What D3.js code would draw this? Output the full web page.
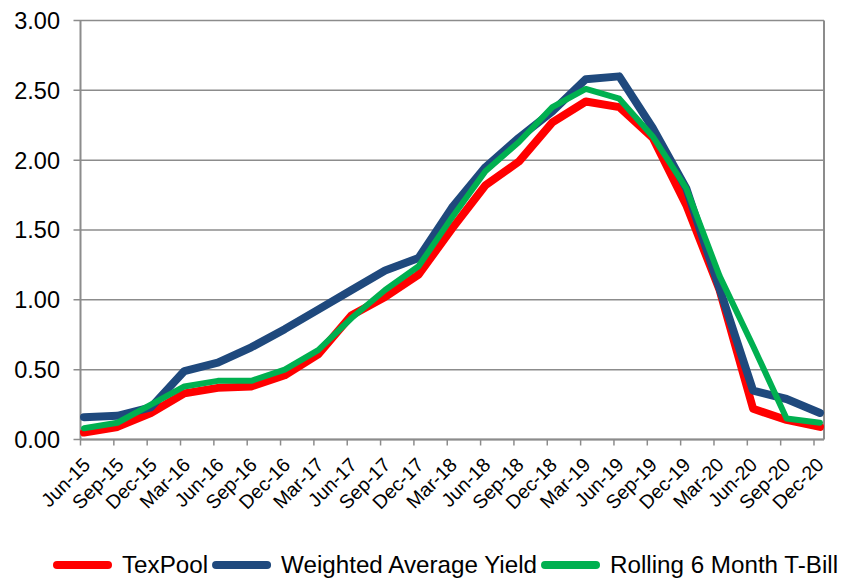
<!DOCTYPE html>
<html>
<head>
<meta charset="utf-8">
<script src="https://cdn.jsdelivr.net/npm/d3@7"></script>
<style>
  body { margin: 0; background: #fff; }
  svg { display: block; font-family: "Liberation Sans", Arial, sans-serif; }
</style>
</head>
<body>
<svg></svg>
<script>
const [svgWidth, svgHeight] = [843, 580];

const categories = ['Jun-15', 'Sep-15', 'Dec-15', 'Mar-16', 'Jun-16', 'Sep-16', 'Dec-16',
  'Mar-17', 'Jun-17', 'Sep-17', 'Dec-17', 'Mar-18', 'Jun-18', 'Sep-18', 'Dec-18',
  'Mar-19', 'Jun-19', 'Sep-19', 'Dec-19', 'Mar-20', 'Jun-20', 'Sep-20', 'Dec-20'];
const texPool = [0.05, 0.09, 0.19, 0.33, 0.37, 0.38, 0.46, 0.61, 0.89, 1.02, 1.18, 1.51,
  1.82, 1.99, 2.27, 2.42, 2.38, 2.16, 1.68, 1.07, 0.22, 0.14, 0.09];
const weightedAvg = [0.16, 0.17, 0.23, 0.49, 0.55, 0.66, 0.79, 0.93, 1.07, 1.21, 1.30, 1.66,
  1.95, 2.16, 2.35, 2.58, 2.60, 2.23, 1.80, 1.08, 0.35, 0.29, 0.19];
const tBill = [0.08, 0.12, 0.25, 0.38, 0.42, 0.42, 0.50, 0.64, 0.87, 1.07, 1.24, 1.59,
  1.92, 2.13, 2.38, 2.51, 2.44, 2.17, 1.80, 1.17, 0.67, 0.15, 0.12];
const yTicks = [0, 0.5, 1, 1.5, 2, 2.5, 3];

const series = [
  { name: 'TexPool', values: texPool, color: '#ff0000', width: 8 },
  { name: 'Weighted Average Yield', values: weightedAvg, color: '#1f497d', width: 8 },
  { name: 'Rolling 6 Month T-Bill', values: tBill, color: '#00b050', width: 6 }
];

const svg = d3.select('svg')
  .attr('width', svgWidth)
  .attr('height', svgHeight);

const plot = { left: 80.5, right: 824, top: 20.5, bottom: 439.5 };

const x = d3.scalePoint()
  .domain(categories)
  .range([84, 820]);
const xTick = d3.scalePoint()
  .domain(categories)
  .range([plot.left, 814]);
const y = d3.scaleLinear()
  .domain([0, 3])
  .range([plot.bottom, plot.top]);

// gridlines
svg.append('g')
  .selectAll('line')
  .data(yTicks)
  .enter()
  .append('line')
  .attr('x1', plot.left - 7)
  .attr('x2', plot.right)
  .attr('y1', d => y(d))
  .attr('y2', d => y(d))
  .attr('stroke', '#8c8c8c')
  .attr('stroke-width', 1.5);

// y labels
svg.append('g')
  .selectAll('text')
  .data(yTicks)
  .enter()
  .append('text')
  .attr('x', 60)
  .attr('y', d => y(d))
  .attr('dy', '0.36em')
  .attr('text-anchor', 'end')
  .attr('font-size', 23.5)
  .attr('fill', '#000')
  .text(d => d.toFixed(2));

// axes + right border
const border = [
  [plot.left, plot.top, plot.left, plot.bottom],
  [plot.right, plot.top, plot.right, plot.bottom],
  [plot.left, plot.bottom, plot.right, plot.bottom]
];
svg.append('g')
  .selectAll('line')
  .data(border)
  .enter()
  .append('line')
  .attr('x1', d => d[0]).attr('y1', d => d[1])
  .attr('x2', d => d[2]).attr('y2', d => d[3])
  .attr('stroke', '#8c8c8c')
  .attr('stroke-width', 2);

// x ticks
svg.append('g')
  .selectAll('line')
  .data(categories)
  .enter()
  .append('line')
  .attr('x1', d => xTick(d))
  .attr('x2', d => xTick(d))
  .attr('y1', plot.bottom)
  .attr('y2', plot.bottom + 6)
  .attr('stroke', '#8c8c8c')
  .attr('stroke-width', 1.5);

// x labels
svg.append('g')
  .selectAll('text')
  .data(categories)
  .enter()
  .append('text')
  .attr('transform', d => `translate(${xTick(d) + 11}, 466) rotate(-45)`)
  .attr('text-anchor', 'end')
  .attr('font-size', 19.5)
  .attr('fill', '#000')
  .text(d => d);

// lines
const line = d3.line()
  .x((d, i) => x(categories[i]))
  .y(d => y(d));

svg.append('g')
  .selectAll('path')
  .data(series)
  .enter()
  .append('path')
  .attr('d', d => line(d.values))
  .attr('fill', 'none')
  .attr('stroke', d => d.color)
  .attr('stroke-width', d => d.width)
  .attr('stroke-linejoin', 'round')
  .attr('stroke-linecap', 'round');

// legend
const legend = svg.append('g');
let lx = 57;
series.forEach(s => {
  legend.append('line')
    .attr('x1', lx).attr('x2', lx + 51)
    .attr('y1', 565).attr('y2', 565)
    .attr('stroke', s.color)
    .attr('stroke-width', 8)
    .attr('stroke-linecap', 'round');
  const t = legend.append('text')
    .attr('x', lx + 65)
    .attr('y', 573)
    .attr('font-size', 24.2)
    .attr('fill', '#000')
    .text(s.name);
  lx += 65 + t.node().getComputedTextLength() + 8;
});
</script>
</body>
</html>
